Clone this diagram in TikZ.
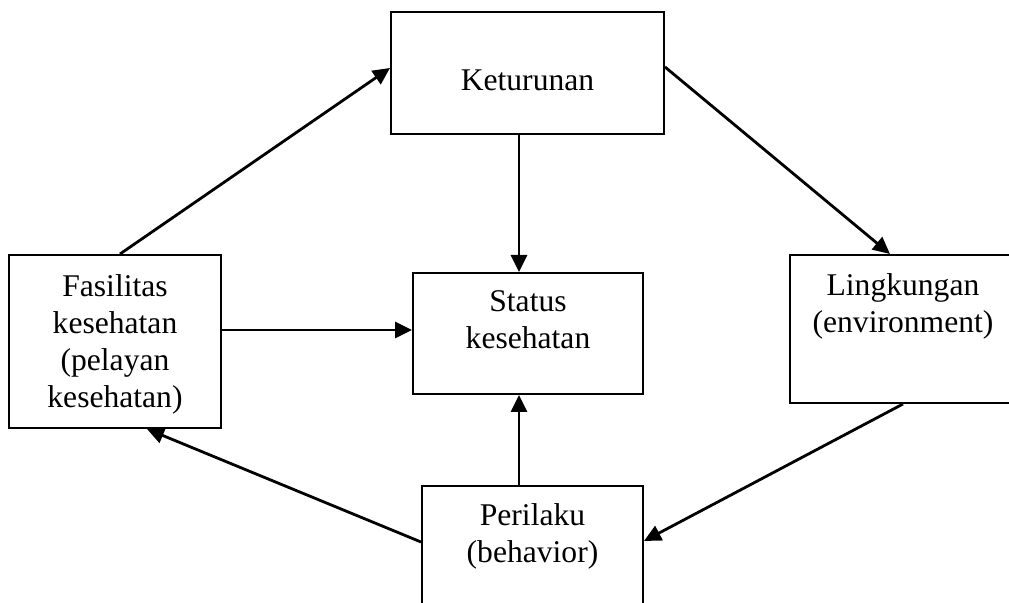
\documentclass[tikz,border=0pt]{standalone}
\usepackage{fontspec}
\setmainfont{Liberation Serif}
\usetikzlibrary{arrows.meta}

\tikzset{
	box/.style={draw,line width=1pt,inner sep=0pt},
	txt/.style={align=center,font=\fontsize{15.8}{18.5}\selectfont},
	arr/.style={-{Triangle[length=8.5pt,width=8pt]},line width=1.4pt}
}

\begin{document}
\begin{tikzpicture}[x=0.5pt,y=-0.5pt]
	\clip (0,0) rectangle (1009,603);
	\node[box,minimum width=136.5pt,minimum height=61pt](ket) at (527.5,73)
		[label={[txt,yshift=-3.5pt]center:Keturunan}]{};
	\node[box,minimum width=115pt,minimum height=60.5pt](status) at (528,333.5)
		[label={[txt,yshift=6.75pt]center:Status\\kesehatan}]{};
	\node[box,minimum width=106pt,minimum height=86.5pt](fas) at (115,341.5)
		[label={[txt,yshift=-1.25pt]center:Fasilitas\\kesehatan\\(pelayan\\kesehatan)}]{};
	\node[box,minimum width=113pt,minimum height=74pt](lin) at (903,329)
		[label={[txt,yshift=11.5pt]center:Lingkungan\\(environment)}]{};
	\node[box,minimum width=110.5pt,minimum height=67pt](per) at (532.5,553)
		[label={[txt,yshift=8.5pt]center:Perilaku\\(behavior)}]{};
	\path[arr]([xshift=2.5pt]fas.north) edge ([yshift=2.5pt]ket.west);
	\path[arr]([yshift=3pt]ket.east) edge ([xshift=-6.5pt]lin.north);
	\path[arr]([xshift=-4.25pt]ket.south) edge ([xshift=-4.5pt]status.north);
	\path[arr]([yshift=5.75pt]fas.east) edge ([yshift=1.75pt]status.west);
	\path[arr](lin.south) edge ([yshift=6pt]per.east);
	\path[arr]([xshift=-6.75pt]per.north) edge ([xshift=-4.5pt]status.south);
	\path[arr]([yshift=5.5pt]per.west) edge ([xshift=16pt]fas.south);
\end{tikzpicture}
\end{document}
